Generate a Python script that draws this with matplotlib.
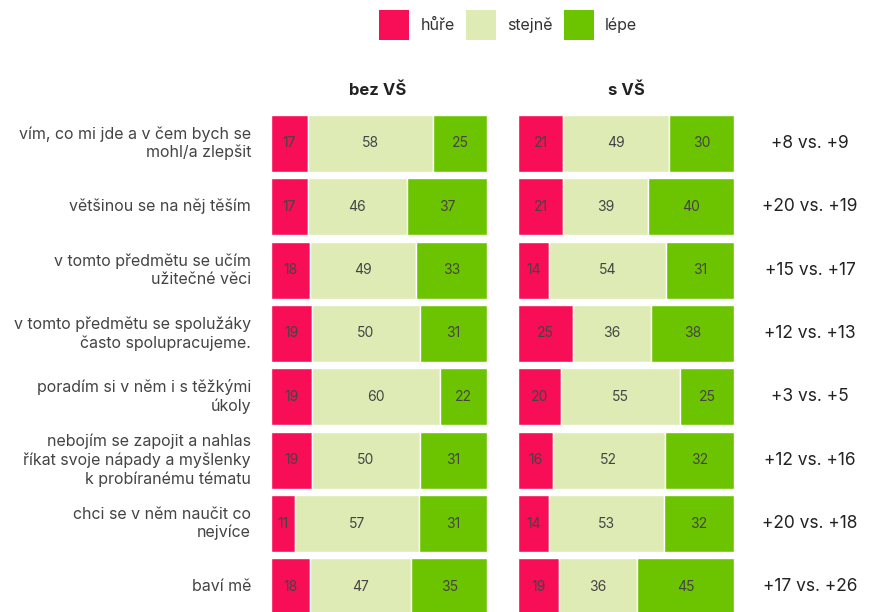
import matplotlib
matplotlib.use("Agg")
import matplotlib.pyplot as plt
from matplotlib.patches import Patch
import numpy as np

plt.rcParams['font.family'] = ['Inter', 'DejaVu Sans']

categories = [
    "vím, co mi jde a v čem bych se\nmohl/a zlepšit",
    "většinou se na něj těším",
    "v tomto předmětu se učím\nužitečné věci",
    "v tomto předmětu se spolužáky\nčasto spolupracujeme.",
    "poradím si v něm i s těžkými\núkoly",
    "nebojím se zapojit a nahlas\nříkat svoje nápady a myšlenky\nk probíranému tématu",
    "chci se v něm naučit co\nnejvíce",
    "baví mě",
]
series_names = ["hůře", "stejně", "lépe"]
panel_titles = ["bez VŠ", "s VŠ"]

bez_hure = [17, 17, 18, 19, 19, 19, 11, 18]
bez_stejne = [58, 46, 49, 50, 60, 50, 57, 47]
bez_lepe = [25, 37, 33, 31, 22, 31, 31, 35]

s_hure = [21, 21, 14, 25, 20, 16, 14, 19]
s_stejne = [49, 39, 54, 36, 55, 52, 53, 36]
s_lepe = [30, 40, 31, 38, 25, 32, 32, 45]

colors = ["#F80D57", "#DEEBB5", "#6CC400"]
txt_col = "#444444"

W, H = 872, 612
fig = plt.figure(figsize=(W / 100, H / 100), dpi=100)

row0, step = 143.4, 63.35
n = len(categories)
top_px = row0 - step / 2
bot_px = row0 + (n - 1) * step + step / 2
ax_b = 1 - bot_px / H
ax_h = (bot_px - top_px) / H

axes = []
for x0 in (271, 518):
    ax = fig.add_axes([x0 / W, ax_b, 216 / W, ax_h])
    axes.append(ax)

data = [(bez_hure, bez_stejne, bez_lepe), (s_hure, s_stejne, s_lepe)]
y = np.arange(n)
for ax, d, title in zip(axes, data, panel_titles):
    arr = np.array(d, dtype=float)
    tot = arr.sum(axis=0)
    frac = arr / tot * 100
    left = np.zeros(n)
    for k in range(3):
        ax.barh(y, frac[k], left=left, height=0.9, color=colors[k],
                edgecolor="white", linewidth=1.0)
        for i in range(n):
            ax.text(left[i] + frac[k][i] / 2, y[i], f"{int(arr[k][i])}",
                    ha="center", va="center", fontsize=10, color=txt_col)
        left += frac[k]
    ax.set_xlim(0, 100)
    ax.set_ylim(n - 0.5, -0.5)
    ax.axis("off")

fig.text(378 / W, 1 - 90 / H, panel_titles[0], ha="center", va="center",
         fontsize=12, fontweight="bold", color="#222222")
fig.text(626 / W, 1 - 90 / H, panel_titles[1], ha="center", va="center",
         fontsize=12, fontweight="bold", color="#222222")

for i, cat in enumerate(categories):
    yc = 1 - (row0 + i * step) / H
    fig.text(251 / W, yc, cat, ha="right", va="center", fontsize=11.5,
             color=txt_col, linespacing=1.25)
    d1 = bez_lepe[i] - bez_hure[i]
    d2 = s_lepe[i] - s_hure[i]
    fig.text(810 / W, yc, f"{d1:+d} vs. {d2:+d}", ha="center", va="center",
             fontsize=12.5, color="#222222")

handles = [Patch(facecolor=c, edgecolor="none") for c in colors]
fig.legend(handles, series_names, ncol=3, loc="center",
           bbox_to_anchor=(508 / W, 1 - 25 / H), frameon=False,
           fontsize=11.5, handlelength=1.88, handleheight=2.5,
           handletextpad=0.7, columnspacing=0.7, labelcolor="#333333")

fig.savefig("out.png", dpi=100, facecolor="white")
